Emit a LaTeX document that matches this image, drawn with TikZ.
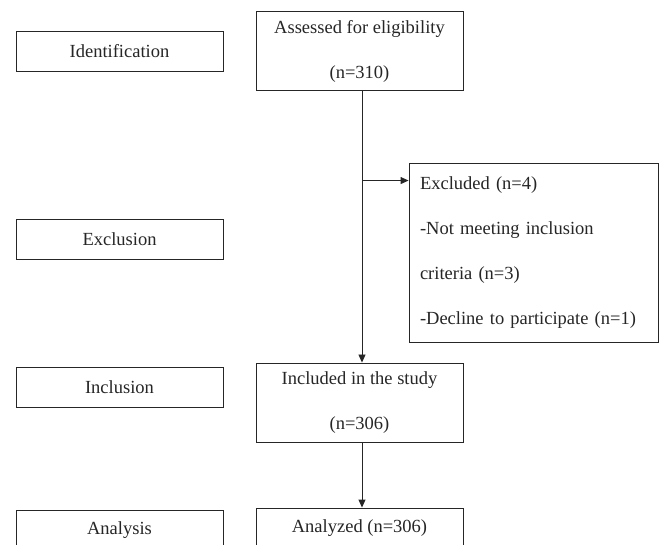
\documentclass[tikz,border=0pt]{standalone}
\usepackage{fontspec}
\setmainfont{Liberation Serif}
\usetikzlibrary{arrows.meta}

\tikzstyle{stage} = [rectangle, minimum width=207pt, minimum height=40pt, inner sep=0pt, text centered, draw=black!85, fill=white]
\tikzstyle{process} = [rectangle, minimum width=207pt, minimum height=79pt, align=center, draw=black!85, fill=white, font=\fontsize{18.5}{45}\selectfont]
\tikzstyle{excluded} = [rectangle, text width=227pt, inner xsep=11pt, minimum height=179pt, align=left, draw=black!85, fill=white, font=\fontsize{18.5}{45}\selectfont]
\tikzstyle{arrow} = [->,>={Triangle[length=8pt,width=7pt]}]

\begin{document}
\begin{tikzpicture}[x=1pt, y=1pt, node distance=240pt, line width=0.9pt, font=\fontsize{18.5}{22}\selectfont, color=black!85]
	\useasboundingbox (0,0) rectangle (659,-545);
	\clip (0,0) rectangle (659,-545);
	% Place nodes
	\node [process] (Assessed) at (359.5,-51) {Assessed for eligibility\\(n=310)};
	\node [process, below of=Assessed, node distance=351.5pt] (Included) {Included in the study\\(n=306)};
	\node [stage, below of=Included, node distance=125.5pt] (Analyzed) {Analyzed (n=306)};
	\node [excluded] (Excluded) at (533.5,-252.5) {Excluded (n=4)\\-Not meeting inclusion\\criteria (n=3)\\-Decline to participate (n=1)};
	\node [stage, left of=Assessed] (Identification) {Identification};
	\node [stage, below of=Identification, node distance=188pt] (Exclusion) {Exclusion};
	\node [stage, left of=Included, yshift=15.5pt] (Inclusion) {Inclusion};
	\node [stage, left of=Analyzed, yshift=-2pt] (Analysis) {Analysis};
	\coordinate [xshift=2.5pt] (AssessedOut) at (Assessed.south);
	\coordinate [xshift=2.5pt] (IncludedIn) at (Included.north);
	\coordinate [xshift=2.5pt] (IncludedOut) at (Included.south);
	\coordinate [xshift=2.5pt] (AnalyzedIn) at (Analyzed.north);
	\coordinate [yshift=-18pt] (ExcludedIn) at (Excluded.north west);
	% Draw edges
	\draw [arrow] (AssessedOut) -- (IncludedIn);
	\draw [arrow] (AssessedOut |- ExcludedIn) -- (ExcludedIn);
	\draw [arrow] (IncludedOut) -- (AnalyzedIn);
\end{tikzpicture}
\end{document}
